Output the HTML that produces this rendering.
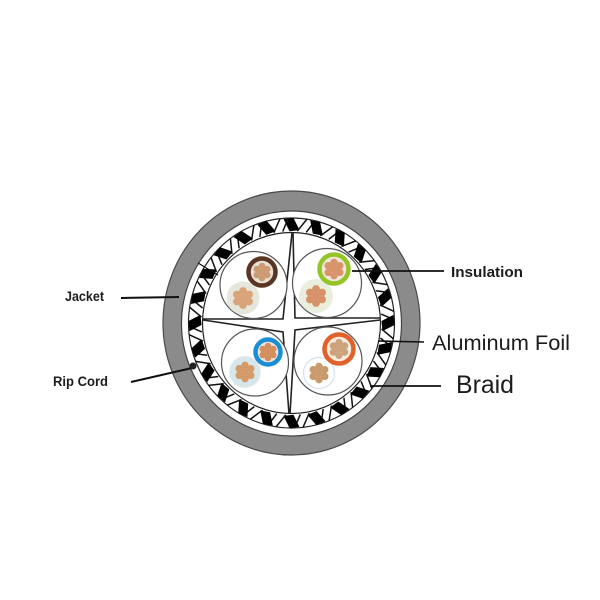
<!DOCTYPE html>
<html>
<head>
<meta charset="utf-8">
<style>
html,body{margin:0;padding:0;background:#fff;width:600px;height:600px;overflow:hidden}
svg{display:block;filter:blur(.3px)}
text{font-family:"Liberation Sans",sans-serif;fill:#1c1c1c}
</style>
</head>
<body>
<svg width="600" height="600" viewBox="0 0 600 600" xmlns="http://www.w3.org/2000/svg">
<defs>
  <g id="t">
    <polygon points="-8,-102 2,-103 8,-91 -2,-90" fill="#000"/>
    <g transform="rotate(7.5)">
      <line x1="-6" y1="-90" x2="2" y2="-103" stroke="#111" stroke-width="1.500"/>
      <line x1="3" y1="-90" x2="10" y2="-102" stroke="#111" stroke-width="1.500"/>
    </g>
  </g>
  <g id="s">
    <circle r="3.9" cx="0" cy="0"/><circle r="3.9" cx="0" cy="-7"/><circle r="3.9" cx="6.1" cy="-3.5"/><circle r="3.9" cx="6.1" cy="3.5"/><circle r="3.9" cx="0" cy="7"/><circle r="3.9" cx="-6.1" cy="3.5"/><circle r="3.9" cx="-6.1" cy="-3.5"/>
  </g>
</defs>

<!-- jacket -->
<ellipse cx="291.5" cy="323" rx="128.5" ry="132" fill="#8b8b8b" stroke="#4a4a4a" stroke-width="1.2"/>
<ellipse cx="291.5" cy="323.5" rx="110" ry="112.5" fill="#fff" stroke="#444" stroke-width="1.2"/>

<!-- braid -->
<ellipse cx="291.5" cy="323" rx="103" ry="105" fill="#fff" stroke="#222" stroke-width="1.2"/>
<g transform="translate(291.5 323) scale(1 1.02)">
  <use href="#t" transform="rotate(0)"/><use href="#t" transform="rotate(15)"/><use href="#t" transform="rotate(30)"/><use href="#t" transform="rotate(45)"/>
  <use href="#t" transform="rotate(60)"/><use href="#t" transform="rotate(75)"/><use href="#t" transform="rotate(90)"/><use href="#t" transform="rotate(105)"/>
  <use href="#t" transform="rotate(120)"/><use href="#t" transform="rotate(135)"/><use href="#t" transform="rotate(150)"/><use href="#t" transform="rotate(165)"/>
  <use href="#t" transform="rotate(180)"/><use href="#t" transform="rotate(195)"/><use href="#t" transform="rotate(210)"/><use href="#t" transform="rotate(225)"/>
  <use href="#t" transform="rotate(240)"/><use href="#t" transform="rotate(255)"/><use href="#t" transform="rotate(270)"/><use href="#t" transform="rotate(285)"/>
  <use href="#t" transform="rotate(300)"/><use href="#t" transform="rotate(315)"/><use href="#t" transform="rotate(330)"/><use href="#t" transform="rotate(345)"/>
</g>

<!-- foil / interior -->
<ellipse cx="291.5" cy="323" rx="89" ry="90.5" fill="#fff" stroke="#222" stroke-width="1.2"/>

<!-- separator cross -->
<polygon points="292,233 296,318 381,319 296,330 290,414 283,332 203,320 283,319" fill="#fff"/>
<g fill="none" stroke="#222" stroke-width="1.6">
  <polyline points="203,319 283,319 292,233"/>
  <polyline points="293,233 295,318 380,318"/>
  <polyline points="203,320 283,332 289,414"/>
  <polyline points="380,320 295,330 290,414"/>
</g>

<!-- pair bundles -->
<g fill="#fff" stroke="#555" stroke-width="1.2">
  <circle cx="253.500" cy="285" r="33.500"/>
  <circle cx="327" cy="283" r="34.500"/>
  <circle cx="255" cy="362.500" r="33.500"/>
  <circle cx="328" cy="361" r="34"/>
</g>

<!-- conductors -->
<circle cx="243" cy="298" r="16.500" fill="#e6e6dc"/>
<use href="#s" transform="translate(243 298)" fill="#d9a479"/>
<circle cx="262" cy="272" r="13.500" fill="#e8e0d2" stroke="#5a3524" stroke-width="4.500"/>
<use href="#s" transform="translate(262 272) scale(.85)" fill="#cd9b72"/>

<circle cx="316" cy="296" r="17" fill="#e9eedd"/>
<use href="#s" transform="translate(316 296)" fill="#d8926a"/>
<circle cx="334" cy="269" r="14.500" fill="#f0e6da" stroke="#93c527" stroke-width="4.500"/>
<use href="#s" transform="translate(334 269) scale(.95)" fill="#d8946a"/>

<circle cx="245" cy="372" r="15.500" fill="#d6e6ea" stroke="#e3edef" stroke-width="1"/>
<use href="#s" transform="translate(245 372) scale(.95)" fill="#d49a68"/>
<circle cx="268" cy="352" r="12.500" fill="#f2e6da" stroke="#1a8fd6" stroke-width="4.500"/>
<use href="#s" transform="translate(268 352) scale(.85)" fill="#d48f5f"/>

<circle cx="319" cy="373" r="15.500" fill="#fff" stroke="#d6e2ee" stroke-width="1.200"/>
<use href="#s" transform="translate(319 373) scale(.95)" fill="#c89a6c"/>
<circle cx="339" cy="349" r="14.500" fill="#f5ece0" stroke="#e0622a" stroke-width="4.500"/>
<use href="#s" transform="translate(339 349) scale(.92)" fill="#cca37c"/>

<!-- leader lines -->
<g stroke="#111" fill="none">
  <line x1="121" y1="298" x2="179" y2="297" stroke-width="2"/>
  <line x1="131" y1="382" x2="192" y2="368" stroke-width="2"/>
  <line x1="352" y1="271" x2="444" y2="271" stroke-width="1.800"/>
  <line x1="378" y1="341" x2="424" y2="342" stroke-width="1.600"/>
  <line x1="370" y1="386" x2="441" y2="386" stroke-width="1.800"/>
  <line x1="198" y1="263" x2="218" y2="275" stroke-width="1.200"/>
</g>
<circle cx="193" cy="366" r="3.500" fill="#222"/>

<!-- labels -->
<text x="65" y="301" font-size="13.500" font-weight="bold" textLength="39" lengthAdjust="spacingAndGlyphs">Jacket</text>
<text x="53" y="386" font-size="13.500" font-weight="bold" textLength="55" lengthAdjust="spacingAndGlyphs">Rip Cord</text>
<text x="451" y="277" font-size="14.500" font-weight="bold" textLength="72" lengthAdjust="spacingAndGlyphs">Insulation</text>
<text x="432" y="350" font-size="21.500" textLength="138" lengthAdjust="spacingAndGlyphs">Aluminum Foil</text>
<text x="456" y="393" font-size="25" textLength="58" lengthAdjust="spacingAndGlyphs">Braid</text>
</svg>
</body>
</html>
